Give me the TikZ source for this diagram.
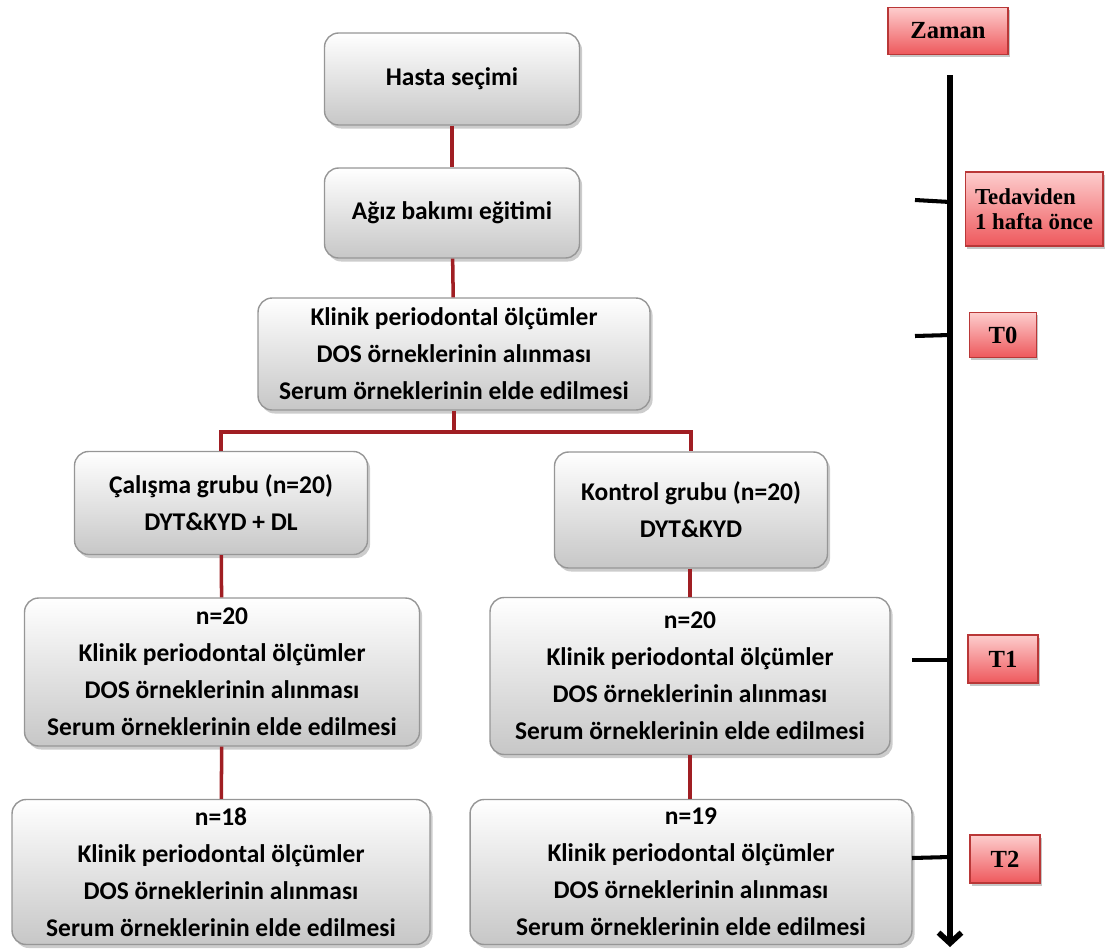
\documentclass[tikz,border=0pt]{standalone}
\usepackage{fontspec}
\setmainfont{Carlito}
\newfontfamily\timesfont{Liberation Serif}
\usetikzlibrary{arrows.meta,shadows}

\definecolor{linkred}{RGB}{160,30,35}
\definecolor{boxedge}{RGB}{150,150,150}
\definecolor{pinktop}{RGB}{253,205,205}
\definecolor{pinkbot}{RGB}{238,88,92}
\definecolor{pinkedge}{RGB}{185,55,55}

\tikzset{
  stagebox/.style={
    rectangle, rounded corners=8pt, draw=boxedge, line width=0.8pt,
    top color=white, bottom color=black!22,
    drop shadow={shadow xshift=1.5pt, shadow yshift=-2pt, opacity=0.4},
    align=center, font=\fontsize{14.5}{21}\selectfont\bfseries
  },
  timebox/.style={
    rectangle, draw=pinkedge, line width=0.6pt,
    top color=pinktop, bottom color=pinkbot,
    drop shadow={shadow xshift=1pt, shadow yshift=-1.5pt, opacity=0.45},
    align=center, font=\timesfont\fontsize{14}{15}\selectfont\bfseries
  },
  link/.style={linkred, line width=2pt},
  tick/.style={black, line width=2.3pt}
}

\begin{document}
\begin{tikzpicture}[x=0.02cm, y=-0.02cm]
  \useasboundingbox (0,0) rectangle (1105,950);

  % flow boxes
  \node[stagebox, minimum width=5.1cm, minimum height=1.84cm] (select) at (452,79) {Hasta seçimi};
  \node[stagebox, minimum width=5.1cm, minimum height=1.8cm] (train) at (452,213) {Ağız bakımı eğitimi};
  \node[stagebox, minimum width=7.84cm, minimum height=2.24cm] (base) at (454,354)
    {Klinik periodontal ölçümler\\DOS örneklerinin alınması\\Serum örneklerinin elde edilmesi};
  \node[stagebox, minimum width=5.86cm, minimum height=2.06cm] (study) at (221,503)
    {Çalışma grubu (n=20)\\DYT\&KYD + DL};
  \node[stagebox, minimum width=5.46cm, minimum height=2.32cm] (control) at (691,510)
    {Kontrol grubu (n=20)\\DYT\&KYD};
  \node[stagebox, minimum width=7.9cm, minimum height=2.96cm] (studyA) at (222,672)
    {n=20\\Klinik periodontal ölçümler\\DOS örneklerinin alınması\\Serum örneklerinin elde edilmesi};
  \node[stagebox, minimum width=8cm, minimum height=3.14cm] (controlA) at (690,676)
    {n=20\\Klinik periodontal ölçümler\\DOS örneklerinin alınması\\Serum örneklerinin elde edilmesi};
  \node[stagebox, minimum width=8.36cm, minimum height=2.9cm] (studyB) at (221,872)
    {n=18\\Klinik periodontal ölçümler\\DOS örneklerinin alınması\\Serum örneklerinin elde edilmesi};
  \node[stagebox, minimum width=8.84cm, minimum height=2.9cm] (controlB) at (691,872)
    {n=19\\Klinik periodontal ölçümler\\DOS örneklerinin alınması\\Serum örneklerinin elde edilmesi};

  % connectors
  \draw[link] (select) -- (train);
  \draw[link] (train) -- (base);
  \coordinate (split) at (454,432);
  \draw[link] (base.south) -- (split);
  \draw[link] (study.north) |- (split) -| (control.north);
  \draw[link] (study) -- (studyA);
  \draw[link] (studyA) -- (studyB);
  \draw[link] (control.south -| controlA.north) -- (controlA.north);
  \draw[link] (controlA.south) -- (controlA.south |- controlB.north);

  % time axis
  \node[timebox, minimum width=2.4cm, minimum height=0.94cm] (time) at (948,31) {Zaman};
  \coordinate (axtop) at (950,75);
  \coordinate (axbot) at (950,947);
  \draw[black, line width=3.2pt, -{Straight Barb[length=6pt, width=13pt]}] (axtop) -- (axbot);

  \node[timebox, minimum width=2.76cm, minimum height=1.48cm, align=left,
    font=\timesfont\fontsize{13}{14}\selectfont\bfseries] (pre) at (1034,209) {Tedaviden\\1 hafta önce};
  \node[timebox, minimum width=1.34cm, minimum height=0.9cm] (t0) at (1003,335) {T0};
  \node[timebox, minimum width=1.4cm, minimum height=0.96cm] (t1) at (1003,659) {T1};
  \node[timebox, minimum width=1.4cm, minimum height=0.96cm] (t2) at (1005,859) {T2};

  \coordinate (m1) at (950,202);
  \coordinate (m2) at (950,335);
  \coordinate (m3) at (950,660);
  \coordinate (m4) at (950,857);
  \draw[tick] (m1) -- (915,200);
  \draw[tick] (m2) -- (915,336);
  \draw[tick] (m3) -- (912,660);
  \draw[tick] (m4) -- (912,858);
\end{tikzpicture}
\end{document}
